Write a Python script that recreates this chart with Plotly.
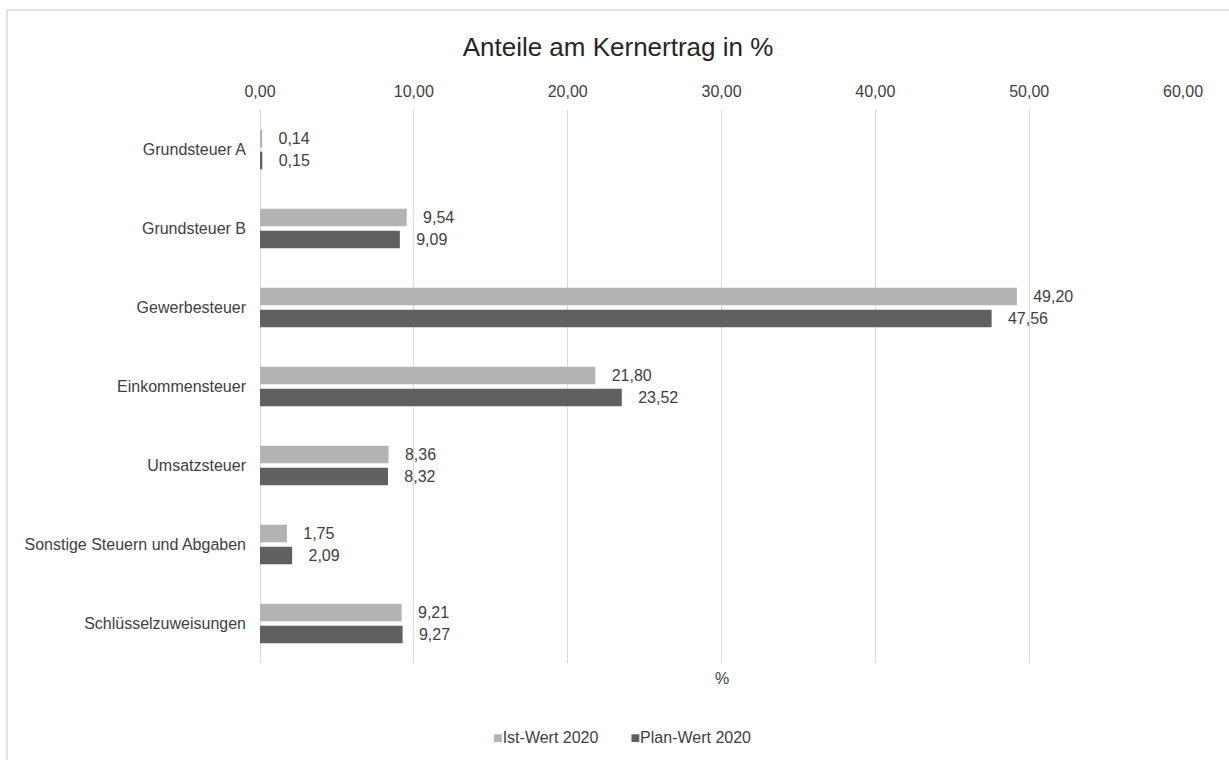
import plotly.graph_objects as go

# Shares of core revenue (percent)
categories = [
    "Grundsteuer A",
    "Grundsteuer B",
    "Gewerbesteuer",
    "Einkommensteuer",
    "Umsatzsteuer",
    "Sonstige Steuern und Abgaben",
    "Schlüsselzuweisungen",
]
ist_2020 = [0.14, 9.54, 49.20, 21.80, 8.36, 1.75, 9.21]
plan_2020 = [0.15, 9.09, 47.56, 23.52, 8.32, 2.09, 9.27]
series_names = ["Ist-Wert 2020", "Plan-Wert 2020"]
series_colors = ["#b3b3b3", "#606060"]
tick_values = [0, 10, 20, 30, 40, 50, 60]

FONT = "Liberation Sans, Arial, sans-serif"
TXT = "#404040"
W, H = 1229, 760
L, R, T, B = 260, 46, 110, 97
PW, PH = W - L - R, H - T - B


def de(v):
    return f"{v:.2f}".replace(".", ",")


def label(v):
    return "\u00a0\u00a0\u00a0" + de(v)


fig = go.Figure()
for name, vals, color in zip(series_names, [ist_2020, plan_2020], series_colors):
    fig.add_trace(go.Bar(
        y=categories, x=vals, orientation="h", name=name,
        marker=dict(color=color, line=dict(width=0)),
        text=[label(v) for v in vals], textposition="outside",
        textfont=dict(family=FONT, size=16, color=TXT),
        cliponaxis=False, showlegend=False,
    ))

# outer chart frame
fig.add_shape(
    type="rect", xref="paper", yref="paper",
    x0=(7 - L) / PW, x1=(W + 10 - L) / PW,
    y0=-(H + 10 - (T + PH)) / PH, y1=1 + (T - 10) / PH,
    line=dict(color="#d9d9d9", width=1.5), fillcolor="rgba(0,0,0,0)", layer="below",
)

# value axis title, placed below the plot area
fig.add_annotation(
    text="%", xref="paper", yref="paper", x=0.5, y=-15 / PH,
    showarrow=False, font=dict(family=FONT, size=16, color=TXT),
    yanchor="middle",
)

# compact legend: coloured square directly followed by the series name
legend_text = "\u2003\u2003".join(
    f"<span style='color:{c}'>\u25a0</span>{n}" for n, c in zip(series_names, series_colors)
)
fig.add_annotation(
    text=legend_text, xref="paper", yref="paper",
    x=(622 - L) / PW, xanchor="center",
    y=-(737 - (T + PH)) / PH, yanchor="middle",
    showarrow=False, font=dict(family=FONT, size=16, color=TXT),
)

fig.update_layout(
    width=W, height=H,
    margin=dict(l=L, r=R, t=T, b=B),
    paper_bgcolor="white", plot_bgcolor="white",
    separators=",.",
    barmode="group", bargap=0.443, bargroupgap=0.2,
    title=dict(
        text="Anteile am Kernertrag in %", x=618 / W, xanchor="center",
        y=1 - 47 / H, yanchor="middle", yref="container",
        font=dict(family=FONT, size=26, color="#262626"),
    ),
    font=dict(family=FONT, size=16, color=TXT),
    xaxis=dict(
        side="top", range=[0, 60], tickvals=tick_values, tickformat=".2f",
        showgrid=True, gridcolor="#d9d9d9", gridwidth=1,
        zeroline=True, zerolinecolor="#d9d9d9", zerolinewidth=1,
        showline=False, ticks="", ticklabelstandoff=9,
        tickfont=dict(family=FONT, size=16, color=TXT),
    ),
    yaxis=dict(
        autorange="reversed", showgrid=False, showline=False, ticks="",
        ticklabelstandoff=13,
        tickfont=dict(family=FONT, size=16, color=TXT),
    ),
    showlegend=False,
)

fig.write_html("out.html")
